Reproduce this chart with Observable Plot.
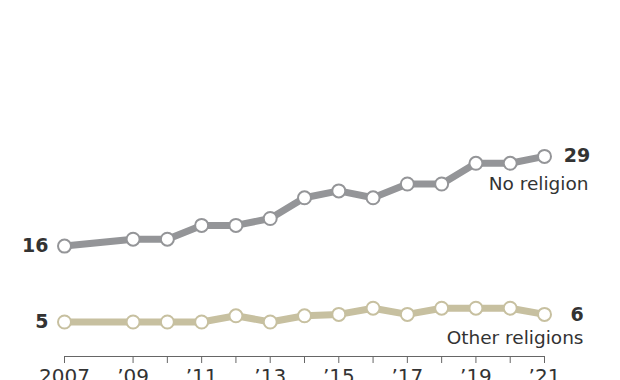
<!DOCTYPE html>
<html>
<head>
<meta charset="utf-8">
<script src="https://cdn.jsdelivr.net/npm/d3@7"></script>
<script src="https://cdn.jsdelivr.net/npm/@observablehq/plot@0.6"></script>
<style>
  html, body { margin: 0; padding: 0; background: #fff; }
  #chart svg { display: block; }
</style>
</head>
<body>
<div id="chart"></div>
<script>
const years = [2007, 2009, 2010, 2011, 2012, 2013, 2014, 2015, 2016, 2017, 2018, 2019, 2020, 2021];
const noReligion = [16, 17, 17, 19, 19, 20, 23, 24, 23, 25, 25, 28, 28, 29];
const otherReligions = [5, 5, 5, 5, 5.9, 5, 5.9, 6.1, 7, 6.1, 7, 7, 7, 6.1];
const otherLabels = [5, 5, 5, 5, 6, 5, 6, 6, 7, 6, 7, 7, 7, 6];
const seriesNames = ["No religion", "Other religions"];
const seriesColors = ["#949598", "#c7c0a0"];
const tickLabelYears = [2007, 2009, 2011, 2013, 2015, 2017, 2019, 2021];

const data = [];
years.forEach((y, i) => {
  data.push({year: y, value: noReligion[i], label: noReligion[i], series: seriesNames[0]});
  data.push({year: y, value: otherReligions[i], label: otherLabels[i], series: seriesNames[1]});
});
const first = data.filter(d => d.year === years[0]);
const last = data.filter(d => d.year === years[years.length - 1]);

const fmt = d => tickLabelYears.includes(d) ? (d === 2007 ? "2007" : "\u2019" + String(d).slice(2)) : "";

const chart = Plot.plot({
  width: 620,
  height: 380,
  marginLeft: 64,
  marginRight: 76,
  marginTop: 11,
  marginBottom: 24,
  style: {fontFamily: "'DejaVu Sans', sans-serif", background: "#fff"},
  x: {domain: [2007, 2021], axis: null},
  y: {domain: [0, 50], axis: null},
  color: {domain: seriesNames, range: seriesColors},
  marks: [
    Plot.ruleY([0], {x1: 2007, x2: 2021, stroke: "#666", strokeWidth: 1}),
    Plot.axisX(years, {
      tickSize: 7, tickPadding: 5, tickFormat: fmt, stroke: "#666",
      fill: "#333", fontSize: 20, label: null
    }),
    Plot.line(data, {x: "year", y: "value", z: "series", stroke: "series", strokeWidth: 7, strokeLinejoin: "round", strokeLinecap: "round"}),
    Plot.dot(data, {x: "year", y: "value", stroke: "series", fill: "white", r: 6.5, strokeWidth: 2}),
    Plot.text(first, {x: "year", y: "value", text: "label", textAnchor: "end", dx: -16, fontSize: 19, fontWeight: "bold", fill: "#333"}),
    Plot.text(last, {x: "year", y: "value", text: "label", textAnchor: "middle", dx: 32.5, fontSize: 19, fontWeight: "bold", fill: "#333"}),
    Plot.text(last.filter(d => d.series === seriesNames[0]), {x: "year", y: "value", text: "series", textAnchor: "end", dx: 44, dy: 28, fontSize: 18.5, fill: "#333"}),
    Plot.text(last.filter(d => d.series === seriesNames[1]), {x: "year", y: "value", text: "series", textAnchor: "end", dx: 39, dy: 24, fontSize: 18.5, fill: "#333"})
  ]
});
document.getElementById("chart").appendChild(chart);
</script>
</body>
</html>
